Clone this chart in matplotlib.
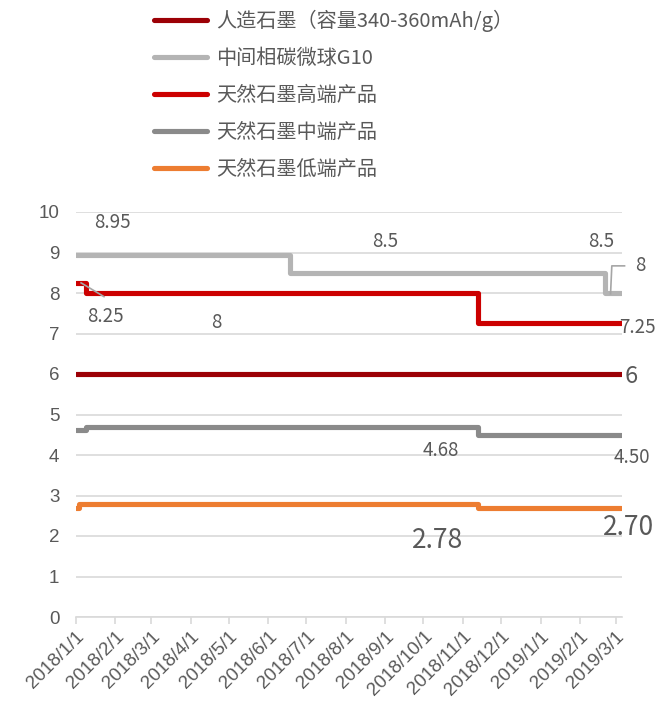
import matplotlib
matplotlib.use("Agg")
import matplotlib.pyplot as plt
from matplotlib.lines import Line2D
import pandas as pd

# ---- data: price change points (万元/吨) ----
end_date = "2019-03-05"

artificial_dates = ["2018-01-01"]
artificial_vals = [6.0]

mcmb_dates = ["2018-01-01", "2018-06-18", "2019-02-21"]
mcmb_vals = [8.95, 8.5, 8.0]

nat_high_dates = ["2018-01-01", "2018-01-09", "2018-11-13"]
nat_high_vals = [8.25, 8.0, 7.25]

nat_mid_dates = ["2018-01-01", "2018-01-09", "2018-11-13"]
nat_mid_vals = [4.62, 4.68, 4.50]

nat_low_dates = ["2018-01-01", "2018-01-03", "2018-11-13"]
nat_low_vals = [2.70, 2.78, 2.70]

series_names = ["人造石墨（容量340-360mAh/g）", "中间相碳微球G10", "天然石墨高端产品",
                "天然石墨中端产品", "天然石墨低端产品"]
series_colors = ["#9c0006", "#b4b4b4", "#cc0000", "#8a8a8a", "#ed7d31"]

tick_dates = pd.date_range("2018-01-01", "2019-03-01", freq="MS")
tick_labels = [f"{d.year}/{d.month}/{d.day}" for d in tick_dates]

CJK = ["Noto Sans CJK SC", "DejaVu Sans"]
TXT = "#595959"

fig = plt.figure(figsize=(6.72, 7.08), dpi=100)
ax = fig.add_axes([76 / 672, 1 - 617 / 708, (622 - 76) / 672, (617 - 212) / 708])

all_series = [
    (artificial_dates, artificial_vals),
    (mcmb_dates, mcmb_vals),
    (nat_high_dates, nat_high_vals),
    (nat_mid_dates, nat_mid_vals),
    (nat_low_dates, nat_low_vals),
]

for (dates, vals), name, color in zip(all_series, series_names, series_colors):
    x = pd.to_datetime(list(dates) + [end_date])
    y = list(vals) + [vals[-1]]
    ax.step(x, y, where="post", color=color, lw=3.7, solid_capstyle="round",
            solid_joinstyle="round", label=name)

ax.set_ylim(0, 10)
ax.set_yticks(range(0, 11))
ax.set_xlim(pd.Timestamp("2018-01-01"), pd.Timestamp("2019-03-06"))
ax.set_xticks(tick_dates)
ax.set_xticklabels(tick_labels, rotation=45, ha="right", rotation_mode="anchor",
                   fontsize=13.5, color=TXT, family="Liberation Sans")
for t in ax.get_yticklabels():
    t.set_fontsize(13.5)
    t.set_color(TXT)
    t.set_family("Liberation Sans")

ax.grid(axis="y", color="#d9d9d9", lw=1.2)
ax.set_axisbelow(True)
for s in ["top", "right", "left"]:
    ax.spines[s].set_visible(False)
ax.spines["bottom"].set_color("#d9d9d9")
ax.spines["bottom"].set_linewidth(1.2)
ax.tick_params(axis="y", length=0, pad=12)
ax.tick_params(axis="x", length=5, color="#d9d9d9", width=1.2, pad=3)

# ---- value labels ----
def lab(date, y, text, size=13.5):
    ax.annotate(text, (pd.Timestamp(date), y), ha="center", va="center",
                fontsize=size, color=TXT, family=CJK, annotation_clip=False)

lab("2018-01-30", 9.75, f"{mcmb_vals[0]:.2f}")
lab("2018-09-01", 9.28, f"{mcmb_vals[1]:.1f}")
lab("2019-02-18", 9.28, f"{mcmb_vals[1]:.1f}")
lab("2019-03-20", 8.67, f"{mcmb_vals[2]:.0f}")
lab("2018-01-24", 7.43, f"{nat_high_vals[0]:.2f}")
lab("2018-04-21", 7.28, f"{nat_high_vals[1]:.0f}")
lab("2019-03-18", 7.14, f"{nat_high_vals[2]:.2f}")
lab("2019-03-13", 5.95, f"{artificial_vals[0]:.0f}", size=17)
lab("2018-10-15", 4.12, f"{nat_mid_vals[1]:.2f}")
lab("2019-03-14", 3.93, f"{nat_mid_vals[2]:.2f}")
lab("2018-10-12", 1.88, f"{nat_low_vals[1]:.2f}", size=19)
lab("2019-03-11", 2.20, f"{nat_low_vals[2]:.2f}", size=19)

# leader lines
lead = "#a6a6a6"
ax.plot(pd.to_datetime(["2018-01-05", "2018-01-23"]), [8.25, 7.91], color=lead,
        lw=1.2, clip_on=False)
ax.plot(pd.to_datetime(["2019-02-25", "2019-02-26", "2019-03-08"]), [7.98, 8.67, 8.67],
        color=lead, lw=1.2, clip_on=False)

# ---- legend ----
handles = [Line2D([], [], color=c, lw=3.7, solid_capstyle="round") for c in series_colors]
fig.legend(handles, series_names, loc="upper left",
           bbox_to_anchor=(144 / 672, 1.0), frameon=False,
           prop={"family": CJK, "size": 14.5}, labelcolor=TXT,
           handlelength=2.64, handletextpad=0.45, labelspacing=0.79,
           borderpad=0.0)

fig.savefig("out.png", dpi=100, facecolor="white")
